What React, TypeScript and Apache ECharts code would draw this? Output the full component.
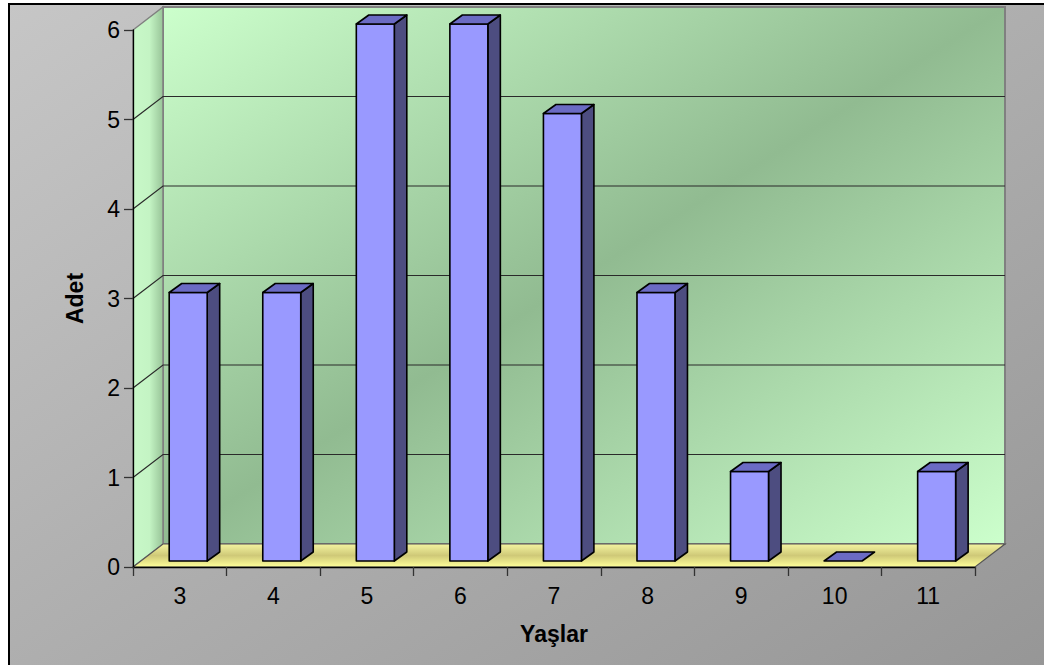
import React, { useEffect, useRef } from "react";
import * as echarts from "echarts";

const categories = ["3", "4", "5", "6", "7", "8", "9", "10", "11"];
const values = [3, 3, 6, 6, 5, 3, 1, 0, 1];
const yTicks = [0, 1, 2, 3, 4, 5, 6];
const xTitle = "Yaşlar";
const yTitle = "Adet";

const FONT = "'Liberation Sans', Arial, sans-serif";

export default function App() {
  const ref = useRef<HTMLDivElement>(null);
  useEffect(() => {
    const chart = echarts.init(ref.current!, null, { renderer: "svg" });
    const D = [30, -23];

    const renderWalls = (params: any, api: any) => {
      const cs = params.coordSys;
      const x0 = cs.x, yT = cs.y, x1 = cs.x + cs.width, yB = cs.y + cs.height;
      const children: any[] = [];
      children.push({
        type: "rect",
        shape: { x: x0 + D[0], y: yT + D[1], width: cs.width, height: cs.height },
        style: {
          fill: new echarts.graphic.LinearGradient(0, 0, 1, 1, [
            { offset: 0, color: "#ccffcc" },
            { offset: 0.5, color: "#91bb91" },
            { offset: 1, color: "#ccffcc" },
          ]),
          stroke: "#808080",
          lineWidth: 2,
        },
      });
      children.push({
        type: "polygon",
        shape: { points: [[x0, yB], [x0, yT], [x0 + D[0], yT + D[1]], [x0 + D[0], yB + D[1]]] },
        style: {
          fill: new echarts.graphic.LinearGradient(0, 0, 1, 0, [
            { offset: 0, color: "#c8f8c8" },
            { offset: 0.55, color: "#c4f4c4" },
            { offset: 1, color: "#98c498" },
          ]),
          stroke: "#808080",
          lineWidth: 1.5,
        },
      });
      children.push({
        type: "polygon",
        shape: { points: [[x0, yB], [x0 + D[0], yB + D[1]], [x1 + D[0], yB + D[1]], [x1, yB]] },
        style: {
          fill: new echarts.graphic.LinearGradient(0, 0, 0, 1, [
            { offset: 0, color: "#f4f4a0" },
            { offset: 0.5, color: "#cfc978" },
            { offset: 1, color: "#ffff99" },
          ]),
          stroke: "#555555",
          lineWidth: 1.2,
        },
      });
      const maxV = yTicks[yTicks.length - 1];
      yTicks.forEach((v) => {
        if (v === 0 || v === maxV) return;
        const y = api.coord([0, v])[1];
        children.push({
          type: "polyline",
          shape: { points: [[x0, y], [x0 + D[0], y + D[1]], [x1 + D[0], y + D[1]]] },
          style: { stroke: "#2a2a2a", lineWidth: 1.2, fill: null },
        });
      });
      return { type: "group", children };
    };

    const renderBar = (params: any, api: any) => {
      const idx = api.value(0);
      const val = api.value(1);
      const base = api.coord([idx, 0]);
      const top = api.coord([idx, val]);
      const bw = api.size([1, 0])[0];
      const off = -6;
      const xl = base[0] - 0.113 * bw;
      const xr = base[0] + 0.293 * bw;
      const yb = base[1] + off;
      const yt = top[1] + off;
      const dx = 12.5, dy = -9;
      const stroke = { stroke: "#000", lineWidth: 1.6, lineJoin: "round" };
      const children: any[] = [];
      if (yb - yt > 0.5) {
        children.push({
          type: "polygon",
          shape: { points: [[xr, yt], [xr + dx, yt + dy], [xr + dx, yb + dy], [xr, yb]] },
          style: { fill: "#4d4d80", ...stroke },
        });
        children.push({
          type: "rect",
          shape: { x: xl, y: yt, width: xr - xl, height: yb - yt },
          style: { fill: "#9999ff", ...stroke },
        });
      }
      children.push({
        type: "polygon",
        shape: { points: [[xl, yt], [xl + dx, yt + dy], [xr + dx, yt + dy], [xr, yt]] },
        style: { fill: "#6b6bc4", ...stroke },
      });
      return { type: "group", children };
    };

    chart.setOption({
      animation: false,
      graphic: [
        {
          type: "rect",
          z: -10,
          silent: true,
          shape: { x: 9, y: 4, width: 1040, height: 670 },
          style: {
            fill: new echarts.graphic.LinearGradient(0, 0, 1, 1, [
              { offset: 0, color: "#c6c6c6" },
              { offset: 1, color: "#969696" },
            ]),
            stroke: "#000",
            lineWidth: 2,
          },
        },
      ],
      grid: { left: 133, right: 69, top: 30, bottom: 98, containLabel: false },
      xAxis: {
        type: "category",
        data: categories,
        z: 3,
        boundaryGap: true,
        name: xTitle,
        nameLocation: "middle",
        nameGap: 55,
        nameTextStyle: { fontFamily: FONT, fontSize: 23, fontWeight: "bold", color: "#000" },
        axisLine: { show: true, lineStyle: { color: "#000", width: 1.3 } },
        axisTick: { show: true, length: 9, alignWithLabel: false, lineStyle: { color: "#333", width: 1.3 } },
        axisLabel: { fontFamily: FONT, fontSize: 23, color: "#000", margin: 17 },
        splitLine: { show: false },
      },
      yAxis: {
        type: "value",
        min: 0,
        max: 6,
        interval: 1,
        z: 3,
        name: yTitle,
        nameLocation: "middle",
        nameRotate: 90,
        nameGap: 47,
        nameTextStyle: { fontFamily: FONT, fontSize: 23, fontWeight: "bold", color: "#000" },
        axisLine: { show: true, lineStyle: { color: "#000", width: 1.3 } },
        axisTick: { show: true, length: 9, lineStyle: { color: "#333", width: 1.3 } },
        axisLabel: { fontFamily: FONT, fontSize: 23, color: "#000", margin: 13 },
        splitLine: { show: false },
      },
      series: [
        {
          type: "custom",
          z: 1,
          silent: true,
          clip: false,
          renderItem: renderWalls,
          data: [[0, 0]],
        },
        {
          type: "custom",
          z: 5,
          clip: false,
          renderItem: renderBar,
          data: values.map((v, i) => [i, v]),
        },
      ],
    });
    return () => chart.dispose();
  }, []);
  return (
    <div
      ref={ref}
      style={{ position: "fixed", left: 0, top: 0, width: 1044, height: 665, background: "#fff" }}
    />
  );
}
